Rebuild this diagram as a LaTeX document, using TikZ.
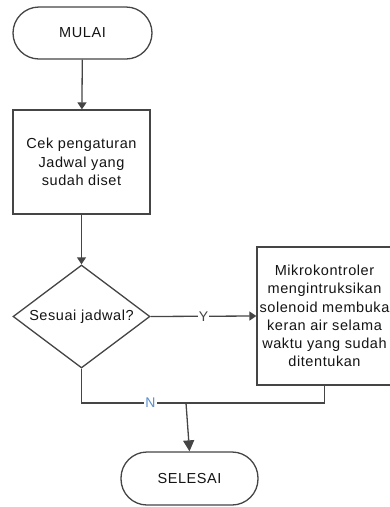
\documentclass[tikz,border=0pt]{standalone}
\usepackage{fontspec}
\setmainfont{Liberation Sans}
\newfontfamily\boxfont[LetterSpace=4]{Liberation Sans}
\usetikzlibrary{arrows.meta,shapes.geometric}
\definecolor{edge}{HTML}{454545}
\definecolor{ink}{HTML}{141414}
\definecolor{nblue}{HTML}{5B8FD0}
\tikzset{
  base/.style={draw=edge, line width=1.3pt, fill=white, text=ink,
    font=\boxfont\fontsize{14.5}{18.2}\selectfont, align=center, inner sep=0pt},
  terminal/.style={base, rectangle, rounded corners=26pt,
    minimum width=139pt, minimum height=52pt},
  process/.style={base, rectangle},
  decision/.style={base, diamond, aspect=1.33, minimum width=137pt, minimum height=103pt},
  flow/.style={draw=edge, line width=1.3pt},
  arrow/.style={flow, -{Triangle[length=7pt,width=9pt]}},
  bigarrow/.style={flow, -{Triangle[length=11pt,width=11pt]}},
  lbl/.style={fill=white, inner sep=1pt, font=\boxfont\fontsize{14}{16}\selectfont}
}
\begin{document}
\begin{tikzpicture}[x=1pt,y=-1pt]
\useasboundingbox (0,0) rectangle (390,507);

\node[terminal] (mulai) at (82.5,33) {MULAI};
\node[process, minimum width=137pt, minimum height=104pt] (cek) at (81.5,162)
  {Cek pengaturan\\Jadwal yang\\sudah diset};
\node[decision] (dec) at (81.5,316.5) {Sesuai jadwal?};
\node[process, minimum width=135pt, minimum height=138pt] (act) at (324.5,316)
  {Mikrokontroler\\mengintruksikan\\solenoid membuka\\keran air selama\\waktu yang sudah\\ditentukan};
\node[terminal, minimum width=137pt, minimum height=53pt] (selesai) at (189.5,478.5) {SELESAI};

\coordinate (j) at (186,403);

\draw[arrow] (mulai) -- (cek);
\draw[arrow] (cek) -- (dec);
\draw[arrow] (dec.east) -- node[lbl, text=edge] {Y} (act.west);
\draw[flow] (dec.south) |- node[pos=0.83, lbl, text=nblue] {N} (j);
\draw[flow] (act.south) |- (j);
\draw[bigarrow] (j) -- (selesai.north);
\end{tikzpicture}
\end{document}
